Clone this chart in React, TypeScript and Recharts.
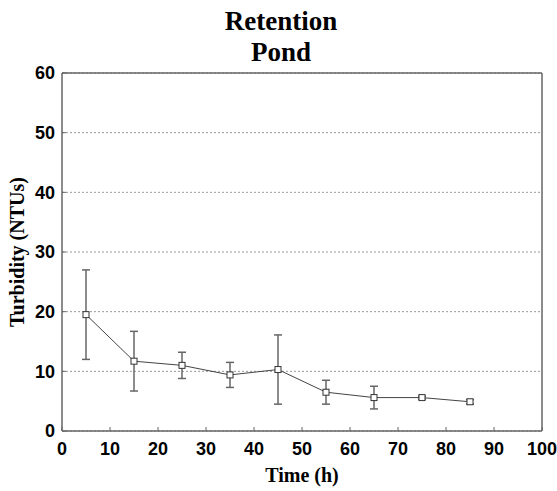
import { LineChart, Line, XAxis, YAxis, CartesianGrid, ErrorBar } from 'recharts';

const times = [5, 15, 25, 35, 45, 55, 65, 75, 85];
const turbidity = [19.5, 11.7, 11.0, 9.4, 10.3, 6.5, 5.6, 5.6, 4.9];
const errors = [7.5, 5.0, 2.2, 2.1, 5.8, 2.0, 1.9, 0.25, 0.35];
const xTicks = [0, 10, 20, 30, 40, 50, 60, 70, 80, 90, 100];
const yTicks = [0, 10, 20, 30, 40, 50, 60];

const data = times.map((t, i) => ({ time: t, value: turbidity[i], err: errors[i] }));

const frame = '#666';
const tickFont = { fontFamily: '"Liberation Sans", Arial, sans-serif', fontWeight: 700, fontSize: 18, fill: '#000' };
const titleFont = { fontFamily: '"Liberation Serif", "Times New Roman", serif', fontWeight: 700, fill: '#000' };

const SquareDot = (props: any) => {
  const { cx, cy, index } = props;
  return <rect key={index} x={cx - 3} y={cy - 3} width={6} height={6} fill="#fff" stroke="#333" strokeWidth={1} />;
};

const ChartTitle = (props: any) => {
  const vb = props.viewBox || {};
  const cx = (vb.x ?? 62) + (vb.width ?? 480) / 2 - 21;
  return (
    <g>
      <text x={cx} y={30} textAnchor="middle" fontSize={27} {...titleFont}>Retention</text>
      <text x={cx} y={61} textAnchor="middle" fontSize={27} {...titleFont}>Pond</text>
    </g>
  );
};

const XTitle = (props: any) => {
  const vb = props.viewBox || {};
  const cx = (vb.x ?? 62) + (vb.width ?? 480) / 2;
  return <text x={cx} y={482} textAnchor="middle" fontSize={20} {...titleFont}>Time (h)</text>;
};

const YTitle = (props: any) => {
  const vb = props.viewBox || {};
  const cy = (vb.y ?? 73) + (vb.height ?? 358) / 2;
  return (
    <text x={24} y={cy} transform={`rotate(-90 24 ${cy})`} textAnchor="middle" fontSize={20} {...titleFont}>
      Turbidity (NTUs)
    </text>
  );
};

export default function App() {
  return (
    <div style={{ position: 'absolute', left: 0, top: 0, width: 557, height: 491, background: '#fff' }}>
      <LineChart width={557} height={491} data={data} margin={{ top: 72, right: 14, bottom: 0, left: 0 }}>
        <CartesianGrid horizontal vertical={false} stroke="#999" strokeDasharray="2 2" />
        <XAxis
          dataKey="time"
          type="number"
          domain={[0, 100]}
          ticks={xTicks}
          height={60}
          tickSize={-4}
          tickMargin={15}
          tick={tickFont}
          axisLine={{ stroke: frame, strokeWidth: 1.5 }}
          tickLine={{ stroke: frame }}
          label={<XTitle />}
        />
        <XAxis
          xAxisId="top"
          dataKey="time"
          orientation="top"
          type="number"
          domain={[0, 100]}
          ticks={xTicks}
          height={1}
          tickSize={-4}
          tick={false}
          axisLine={{ stroke: frame, strokeWidth: 1.5 }}
          tickLine={{ stroke: frame }}
          label={<ChartTitle />}
        />
        <YAxis
          type="number"
          domain={[0, 60]}
          ticks={yTicks}
          width={62}
          tickSize={-4}
          tickMargin={11}
          tick={tickFont}
          axisLine={{ stroke: frame, strokeWidth: 1.5 }}
          tickLine={{ stroke: frame }}
          label={<YTitle />}
        />
        <YAxis
          yAxisId="right"
          orientation="right"
          type="number"
          domain={[0, 60]}
          ticks={yTicks}
          width={1}
          tickSize={-4}
          tick={false}
          axisLine={{ stroke: frame, strokeWidth: 1.5 }}
          tickLine={{ stroke: frame }}
        />
        <Line
          dataKey="value"
          stroke="#444"
          strokeWidth={1}
          dot={<SquareDot />}
          activeDot={false}
          isAnimationActive={false}
        >
          <ErrorBar dataKey="err" direction="y" width={4} stroke="#666" strokeWidth={1.5} isAnimationActive={false} />
        </Line>
      </LineChart>
    </div>
  );
}
